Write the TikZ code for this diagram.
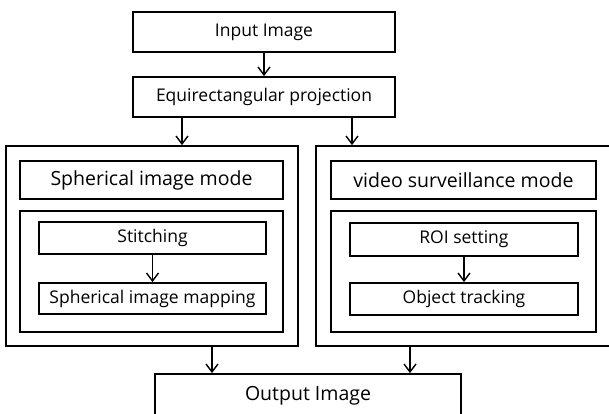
\documentclass[tikz,border=0pt]{standalone}
\usepackage{fontspec}
\setmainfont{Open Sans}
\usetikzlibrary{calc,arrows.meta}

\tikzset{
  box/.style={draw, line width=1.7pt, inner sep=0pt, align=center,
    font=\fontsize{17.5}{20}\selectfont},
  modebox/.style={box, font=\fontsize{19.5}{22}\selectfont},
  arr/.style={line width=1.4pt, -{Straight Barb[length=8pt,width=12pt,line width=1.4pt]}}
}

\begin{document}
\begin{tikzpicture}[x=1pt,y=-1pt]
        \clip (0,0) rectangle (609,414);

        % Top chain
        \node[box, minimum width=262pt, minimum height=40pt] (input) at (264,32) {Input Image};
        \node[box, minimum width=262pt, minimum height=40pt] (equi) at (264,97) {Equirectangular projection};

        % Left mode
        \node[box, minimum width=292pt, minimum height=200pt] (lout) at (152,246) {};
        \node[modebox, minimum width=263pt, minimum height=38pt] (sphmode) at (151.5,180) {Spherical image mode};
        \node[box, minimum width=263pt, minimum height=121pt] (lin) at (151.5,271.5) {};
        \node[box, minimum width=227pt, minimum height=32pt] (stitch) at (152.5,238) {Stitching};
        \node[box, minimum width=227pt, minimum height=31pt] (sphmap) at (152.5,298.5) {Spherical image mapping};

        % Right mode
        \node[box, minimum width=295pt, minimum height=200pt] (rout) at (463.5,246) {};
        \node[modebox, minimum width=265pt, minimum height=38pt] (vidmode) at (463.5,180) {video surveillance mode};
        \node[box, minimum width=265pt, minimum height=121pt] (rin) at (463.5,271.5) {};
        \node[box, minimum width=228pt, minimum height=33pt] (roi) at (464,239.5) {ROI setting};
        \node[box, minimum width=228pt, minimum height=32pt] (track) at (464,299) {Object tracking};

        % Output
        \node[modebox, minimum width=306pt, minimum height=60pt] (output) at (308,404) {};
        \node[font=\fontsize{19.5}{22}\selectfont] (outtxt) at (308,396) {Output Image};

        % Arrows
        \draw[arr] (input) -- (equi);
        \draw[arr] ([xshift=-82pt]equi.south) -- ([xshift=-82pt]equi.south |- lout.north);
        \draw[arr] ([xshift=88pt]equi.south) -- ([xshift=88pt]equi.south |- rout.north);
        \draw[arr] (stitch) -- (sphmap);
        \draw[arr] (roi) -- (track);
        \draw[arr] ([xshift=-96pt]output.north |- lout.south) -- ([xshift=-96pt]output.north);
        \draw[arr] ([xshift=102pt]output.north |- rout.south) -- ([xshift=102pt]output.north);
    \end{tikzpicture}
\end{document}
